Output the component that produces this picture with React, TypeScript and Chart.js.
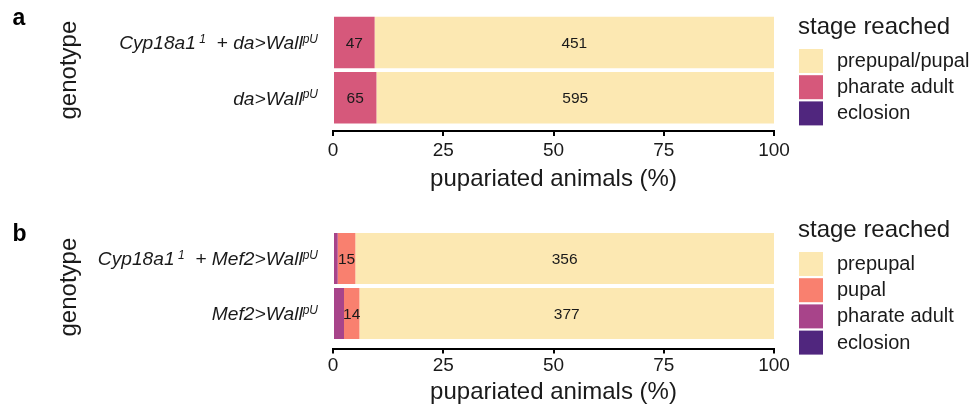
import React, { useEffect, useRef } from 'react';
import { Chart, registerables } from 'chart.js';

Chart.register(...registerables);

const FONT = '"Liberation Sans", Arial, Helvetica, sans-serif';
const TEXT = '#1a1a1a';

// ---- shared ----
const xTicks = [0, 25, 50, 75, 100];
const xTitle = 'pupariated animals (%)';
const yTitle = 'genotype';
const legendTitle = 'stage reached';

// ---- panel a ----
const categoriesA = ['Cyp18a1^{ 1}  + da>Wall^{pU}', 'da>Wall^{pU}'];
const stageNamesA = ['eclosion', 'pharate adult', 'prepupal/pupal'];
const eclosionA = [0, 0];
const pharateAdultA = [47, 65];
const prepupalPupalA = [451, 595];
const colorsA = ['#50267E', '#D6587B', '#FCE8B2'];

// ---- panel b ----
const categoriesB = ['Cyp18a1^{ 1}  + Mef2>Wall^{pU}', 'Mef2>Wall^{pU}'];
const stageNamesB = ['eclosion', 'pharate adult', 'pupal', 'prepupal'];
const eclosionB = [0, 0];
const pharateAdultB = [4, 10];
const pupalB = [15, 14];
const prepupalB = [356, 377];
const colorsB = ['#50267E', '#A8448A', '#F9806F', '#FCE8B2'];

type PanelCfg = {
  letter: string;
  H: number;
  areaTop: number;
  areaBottom: number;
  yMax: number;
  tickPad: number;
  titlePad: number;
  letterBaseline: number;
  legendTop: number;
};

function parseLabel(s: string) {
  const parts: { t: string; sup: boolean }[] = [];
  const re = /\^\{([^}]*)\}/g;
  let last = 0;
  let m: RegExpExecArray | null;
  while ((m = re.exec(s))) {
    if (m.index > last) parts.push({ t: s.slice(last, m.index), sup: false });
    parts.push({ t: m[1], sup: true });
    last = m.index + m[0].length;
  }
  if (last < s.length) parts.push({ t: s.slice(last), sup: false });
  return parts;
}

function Panel(props: {
  cfg: PanelCfg;
  top: number;
  categories: string[];
  stageNames: string[];
  series: number[][];
  colors: string[];
}) {
  const ref = useRef<HTMLCanvasElement | null>(null);
  const { cfg, categories, stageNames, series, colors } = props;

  useEffect(() => {
    const canvas = ref.current;
    if (!canvas) return;
    const totals = categories.map((_, i) => series.reduce((s, arr) => s + arr[i], 0));
    const datasets = stageNames.map((name, k) => ({
      label: name,
      data: series[k].map((c, i) => ({ x: (c / totals[i]) * 100, y: i })),
      counts: series[k],
      backgroundColor: colors[k],
      borderWidth: 0,
      grouped: false,
      barPercentage: 0.93,
      categoryPercentage: 1,
    }));

    const decor = {
      id: 'decor',
      afterDatasetsDraw(chart: any) {
        const ctx = chart.ctx;
        const area = chart.chartArea;
        const yScale = chart.scales.y;
        ctx.save();
        // value labels
        ctx.font = `15.5px ${FONT}`;
        ctx.fillStyle = TEXT;
        ctx.textAlign = 'center';
        ctx.textBaseline = 'middle';
        chart.data.datasets.forEach((ds: any, di: number) => {
          const meta = chart.getDatasetMeta(di);
          meta.data.forEach((el: any, i: number) => {
            const pct = ds.data[i].x;
            if (pct < 3) return;
            const cx = (el.x + el.base) / 2;
            ctx.fillText(String(ds.counts[i]), cx, el.y + 1);
          });
        });
        // category labels (italic with superscripts)
        const mainFont = `italic 19.2px ${FONT}`;
        const supFont = `italic 12px ${FONT}`;
        ctx.textAlign = 'left';
        ctx.textBaseline = 'alphabetic';
        categories.forEach((lab, i) => {
          const parts = parseLabel(lab);
          const widths = parts.map((p) => {
            ctx.font = p.sup ? supFont : mainFont;
            return ctx.measureText(p.t).width;
          });
          const total = widths.reduce((a, b) => a + b, 0);
          let x = area.left - 15 - total;
          const base = yScale.getPixelForValue(i) + 6.9;
          parts.forEach((p, k) => {
            ctx.font = p.sup ? supFont : mainFont;
            ctx.fillText(p.t, x, p.sup ? base - 6.5 : base);
            x += widths[k];
          });
        });
        // panel letter
        ctx.font = `bold 23px ${FONT}`;
        ctx.fillStyle = '#000';
        ctx.fillText(cfg.letter, 12.5, cfg.letterBaseline);
        // legend
        const lx = 799;
        const box = 24;
        const pitch = 26.2;
        ctx.font = `24px ${FONT}`;
        ctx.fillStyle = TEXT;
        ctx.textBaseline = 'alphabetic';
        ctx.fillText(legendTitle, lx - 1, cfg.legendTop - 15);
        const order = stageNames.map((_, k) => k).reverse();
        order.forEach((k, j) => {
          const y0 = cfg.legendTop + j * pitch;
          ctx.fillStyle = colors[k];
          ctx.fillRect(lx, y0, box, box);
          ctx.fillStyle = TEXT;
          ctx.font = `20px ${FONT}`;
          ctx.textBaseline = 'middle';
          ctx.fillText(stageNames[k], 837, y0 + box / 2 + 0.5);
        });
        ctx.restore();
      },
    };

    const chart = new Chart(canvas, {
      type: 'bar',
      data: { datasets: datasets as any },
      options: {
        responsive: false,
        animation: false,
        indexAxis: 'y',
        layout: { padding: { top: cfg.areaTop, right: 974 - 774, bottom: 0, left: 0 } },
        plugins: { legend: { display: false }, tooltip: { enabled: false }, title: { display: false } },
        scales: {
          x: {
            type: 'linear',
            min: 0,
            max: 100,
            stacked: true,
            offset: false,
            afterBuildTicks: (s: any) => {
              s.ticks = xTicks.map((v) => ({ value: v }));
            },
            afterFit: (s: any) => {
              s.height = cfg.H - cfg.areaBottom;
            },
            ticks: {
              font: { family: FONT, size: 19 },
              color: TEXT,
              padding: cfg.tickPad,
              maxRotation: 0,
              autoSkip: false,
            },
            grid: {
              display: true,
              drawOnChartArea: false,
              drawTicks: true,
              tickLength: 5,
              tickWidth: 2,
              tickColor: '#000',
              color: '#000',
              lineWidth: 2,
              offset: false,
            },
            border: { display: true, color: '#000', width: 2 },
            title: {
              display: true,
              text: xTitle,
              font: { family: FONT, size: 24 },
              color: TEXT,
              padding: { top: 0, bottom: cfg.titlePad },
            },
          },
          y: {
            type: 'linear',
            min: -0.6,
            max: cfg.yMax,
            reverse: true,
            offset: false,
            afterBuildTicks: (s: any) => {
              s.ticks = categories.map((_, i) => ({ value: i }));
            },
            afterFit: (s: any) => {
              s.width = 333;
            },
            ticks: { display: false },
            grid: { display: false, offset: false },
            border: { display: false },
            title: {
              display: true,
              text: yTitle,
              font: { family: FONT, size: 24 },
              color: TEXT,
              padding: { top: 54.5, bottom: 0 },
            },
          },
        },
      } as any,
      plugins: [decor],
    });
    return () => chart.destroy();
  }, []);

  return (
    <canvas
      ref={ref}
      width={974}
      height={cfg.H}
      style={{ position: 'absolute', left: 0, top: props.top, width: 974, height: cfg.H }}
    />
  );
}

const cfgA: PanelCfg = {
  letter: 'a',
  H: 205,
  areaTop: 9.2,
  areaBottom: 131,
  yMax: 1.6,
  tickPad: 3.5,
  titlePad: 11.5,
  letterBaseline: 25.3,
  legendTop: 49,
};

const cfgB: PanelCfg = {
  letter: 'b',
  H: 204,
  areaTop: 20.7,
  areaBottom: 143.5,
  yMax: 1.64,
  tickPad: 0.5,
  titlePad: 2.3,
  letterBaseline: 36,
  legendTop: 47,
};

export default function App() {
  return (
    <div style={{ position: 'fixed', left: 0, top: 0, width: 974, height: 409, background: '#fff' }}>
      <Panel
        cfg={cfgA}
        top={0}
        categories={categoriesA}
        stageNames={stageNamesA}
        series={[eclosionA, pharateAdultA, prepupalPupalA]}
        colors={colorsA}
      />
      <Panel
        cfg={cfgB}
        top={205}
        categories={categoriesB}
        stageNames={stageNamesB}
        series={[eclosionB, pharateAdultB, pupalB, prepupalB]}
        colors={colorsB}
      />
    </div>
  );
}
